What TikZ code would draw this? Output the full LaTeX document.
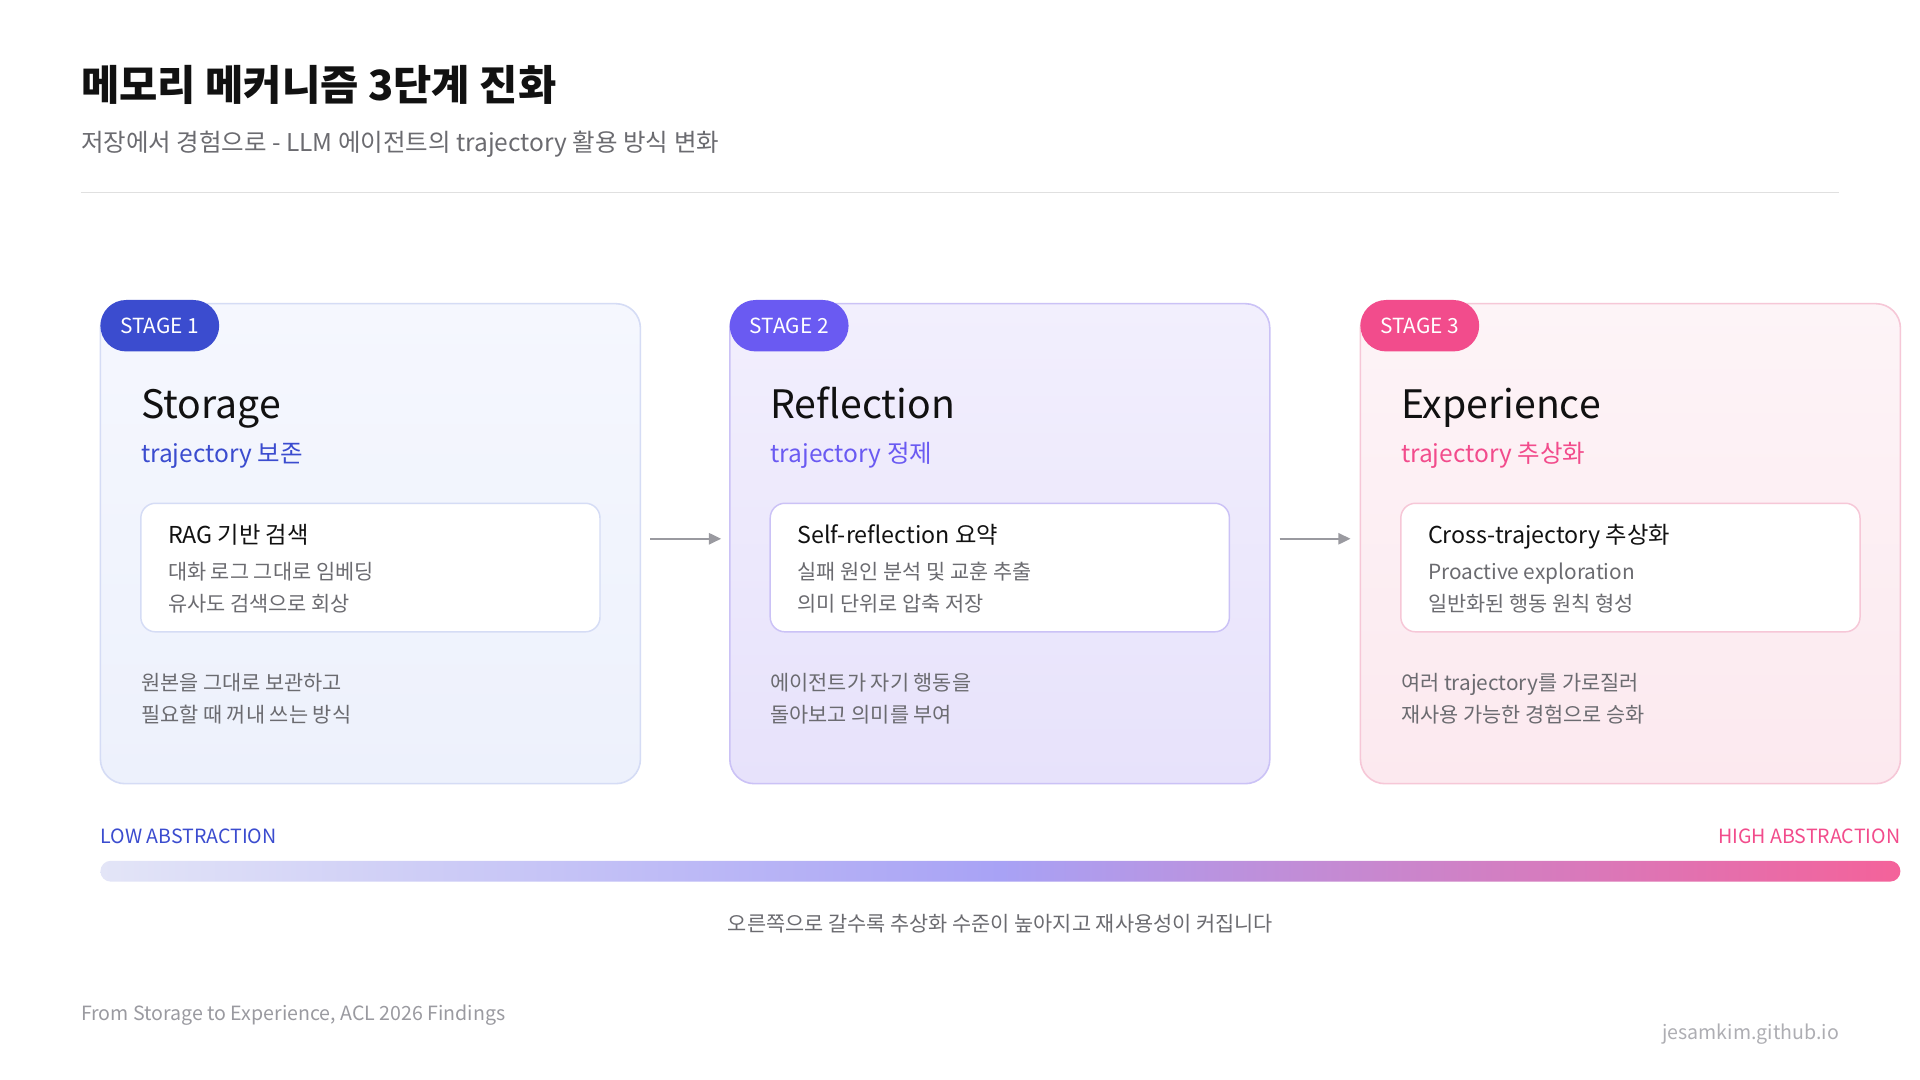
\documentclass[tikz,border=0pt]{standalone}
\usepackage{fontspec}
\setmainfont{Noto Sans CJK KR}
\usetikzlibrary{arrows.meta}
\definecolor{ink}{HTML}{111111}
\definecolor{gray1}{HTML}{6B6B70}
\definecolor{gray2}{HTML}{9A9AA0}
\definecolor{cblue}{HTML}{3B4CCF}
\definecolor{cpurp}{HTML}{6A5AF2}
\definecolor{cpink}{HTML}{F24C8C}
\definecolor{f1a}{HTML}{F5F7FE}\definecolor{f1b}{HTML}{EDF1FC}\definecolor{b1}{HTML}{D5DCF5}
\definecolor{f2a}{HTML}{F2EFFD}\definecolor{f2b}{HTML}{E7E2FB}\definecolor{b2}{HTML}{CBC2F6}
\definecolor{f3a}{HTML}{FDF4F7}\definecolor{f3b}{HTML}{FCE9EF}\definecolor{b3}{HTML}{F6C7D7}
\tikzset{x=1pt,y=-1pt,
 fs/.style={font=\fontsize{#1}{#1}\selectfont},
 txt/.style={anchor=base west,inner sep=0pt},
 badge/.style={rounded corners=21pt,inner sep=0pt,minimum width=97pt,minimum height=42pt,text=white,fs=17},
 inbox/.style={draw=#1,line width=1.2pt,fill=white,rounded corners=12pt},
 flow/.style={draw=gray2,line width=2pt,-{Triangle[length=10pt,width=9pt]}}}
\begin{document}
\begin{tikzpicture}
\useasboundingbox[fill=white] (0,0) rectangle (1568,882);
\node[txt,fs=34,text=ink] (title) at (66,82) {\bfseries 메모리 메커니즘 3단계 진화};
\node[txt,fs=20,text=gray1] (sub) at (66,124) {저장에서 경험으로 - LLM 에이전트의 trajectory 활용 방식 변화};
\draw[draw=black!12,line width=1pt] (66,157) -- (1502,157);
% cards
\foreach \i/\x/\fa/\fb/\bc/\cc/\T/\S/\H/\La/\Lb/\Ba/\Bb in {
 1/82/f1a/f1b/b1/cblue/Storage/trajectory 보존/RAG 기반 검색/대화 로그 그대로 임베딩/유사도 검색으로 회상/원본을 그대로 보관하고/필요할 때 꺼내 쓰는 방식,
 2/596/f2a/f2b/b2/cpurp/Reflection/trajectory 정제/Self-reflection 요약/실패 원인 분석 및 교훈 추출/의미 단위로 압축 저장/에이전트가 자기 행동을/돌아보고 의미를 부여,
 3/1111/f3a/f3b/b3/cpink/Experience/trajectory 추상화/Cross-trajectory 추상화/Proactive exploration/일반화된 행동 원칙 형성/여러 trajectory를 가로질러/재사용 가능한 경험으로 승화}{
 \shade[top color=\fa,bottom color=\fb,rounded corners=20pt] (\x,248) rectangle ++(441,392);
 \draw[draw=\bc,line width=1.3pt,rounded corners=20pt] (\x,248) rectangle ++(441,392);
 \node[badge,fill=\cc] (badge\i) at (\x+48.5,266) {STAGE \i};
 \node[txt,fs=32,text=ink] (t\i) at (\x+33,342) {\T};
 \node[txt,fs=20,text=\cc] (s\i) at (\x+33,378) {\S};
 \draw[inbox=\bc] (\x+33,411) rectangle (\x+408,516);
 \node[txt,fs=19,text=ink] (h\i) at (\x+55,444) {\H};
 \node[txt,fs=17,text=gray1] (la\i) at (\x+55,473) {\La};
 \node[txt,fs=17,text=gray1] (lb\i) at (\x+55,499) {\Lb};
 \node[txt,fs=17,text=gray1] (ba\i) at (\x+33,564) {\Ba};
 \node[txt,fs=17,text=gray1] (bb\i) at (\x+33,590) {\Bb};
}
\coordinate (a1s) at (531,440); \coordinate (a1e) at (589,440);
\coordinate (a2s) at (1045,440); \coordinate (a2e) at (1103,440);
\draw[flow] (a1s) -- (a1e);
\draw[flow] (a2s) -- (a2e);
\node[txt,fs=16,text=cblue] (low) at (82,689) {LOW ABSTRACTION};
\node[anchor=base east,inner sep=0pt,fs=16,text=cpink] (high) at (1552,689) {HIGH ABSTRACTION};
\definecolor{g1}{HTML}{E3E5F7}\definecolor{g2}{HTML}{A8A2F5}\definecolor{g3}{HTML}{F4629A}
\shade[left color=g1,right color=g3,middle color=g2,rounded corners=8.5pt] (82,703) rectangle (1552,720);
\node[fs=17,text=gray1,inner sep=0pt] (cap) at (817,754) {오른쪽으로 갈수록 추상화 수준이 높아지고 재사용성이 커집니다};
\node[txt,fs=16,text=gray2] (foot) at (66,833) {From Storage to Experience, ACL 2026 Findings};
\node[anchor=base east,inner sep=0pt,fs=16,text=gray2!80] (site) at (1502,849) {jesamkim.github.io};
\end{tikzpicture}
\end{document}
